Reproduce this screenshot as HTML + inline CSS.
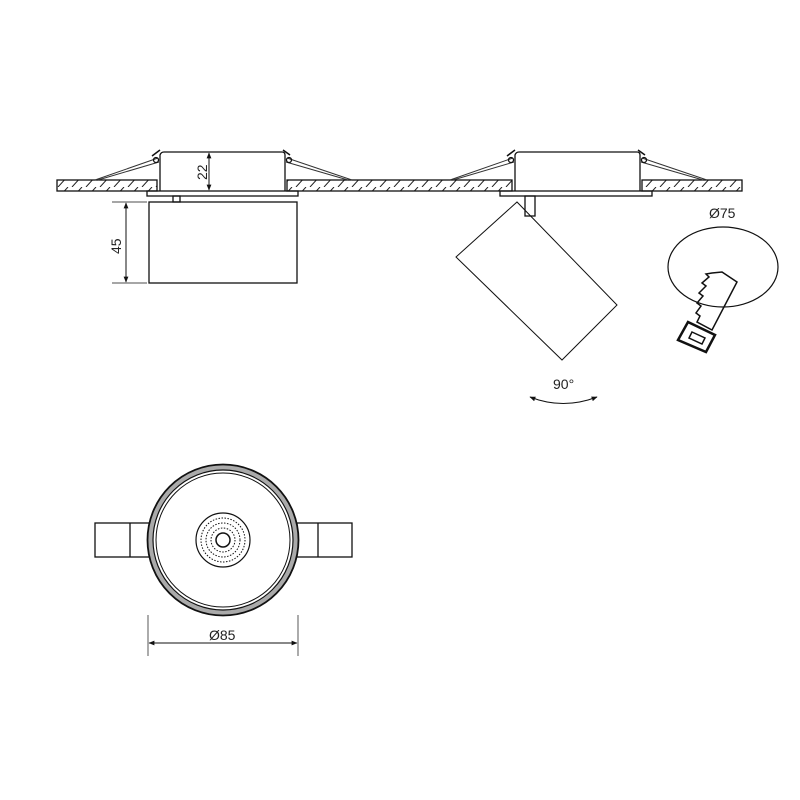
<!DOCTYPE html>
<html><head><style>body{margin:0;background:#fff}svg{display:block}</style></head><body>
<svg width="800" height="800" viewBox="0 0 800 800" xmlns="http://www.w3.org/2000/svg" font-family="Liberation Sans, sans-serif">
<defs>
<pattern id="h" width="14" height="11" patternUnits="userSpaceOnUse"><line x1="2" y1="11" x2="12" y2="0" stroke="#222" stroke-width="1"/></pattern>
<marker id="a" viewBox="0 0 10 10" refX="9" refY="5" markerWidth="6" markerHeight="6" orient="auto-start-reverse"><path d="M0,1 L10,5 L0,9z" fill="#111"/></marker>
</defs>
<g stroke="#111" fill="none" stroke-width="1.3">
<rect x="57" y="180" width="100" height="11" fill="url(#h)"/>
<rect x="287" y="180" width="225" height="11" fill="url(#h)"/>
<rect x="642" y="180" width="100" height="11" fill="url(#h)"/>
<!-- left fixture -->
<path d="M160,191 V155 Q161,152 164,152 H282 Q285,152 285,155 V191"/>
<rect x="147" y="191" width="151" height="5"/>
<rect x="173" y="196" width="7" height="6"/>
<rect x="149" y="202" width="148" height="81"/>
<path d="M158,158 L95,180 M159,162 L98,180 M287,158 L352,180 M286,162 L348,180" stroke-width="1" stroke="#333"/>
<path d="M152,156 L160,150 M290,155 L283,150" stroke-width="1.5"/>
<circle cx="156" cy="160" r="2.5"/><circle cx="289" cy="160" r="2.5"/>
<line x1="209" y1="153" x2="209" y2="190" marker-start="url(#a)" marker-end="url(#a)" stroke-width="1"/>
<line x1="112" y1="202" x2="147" y2="202" stroke-width="0.7"/>
<line x1="112" y1="283" x2="147" y2="283" stroke-width="0.7"/>
<line x1="126" y1="203" x2="126" y2="282" marker-start="url(#a)" marker-end="url(#a)" stroke-width="1"/>
<!-- right fixture -->
<path d="M515,191 V155 Q516,152 519,152 H637 Q640,152 640,155 V191"/>
<rect x="500" y="191" width="152" height="5"/>
<rect x="525" y="196" width="10" height="20"/>
<polygon points="456,257 517,202 617,305 562,360" stroke-width="1"/>
<path d="M513,158 L450,180 M514,162 L453,180 M642,158 L707,180 M641,162 L703,180" stroke-width="1" stroke="#333"/>
<path d="M507,156 L515,150 M645,155 L638,150" stroke-width="1.5"/>
<circle cx="511" cy="160" r="2.5"/><circle cx="644" cy="160" r="2.5"/>
<path d="M530,397 Q563,410 597,397" marker-start="url(#a)" marker-end="url(#a)" stroke-width="1"/>
<!-- ellipse & saw -->
<ellipse cx="723" cy="267" rx="55" ry="40" stroke-width="1.2"/>
<path d="M722,272 L737,282 L712,330 L697,322 L700,316 L696,313 L701,306 L697,303 L703,296 L699,293 L706,286 L702,283 L709,277 L706,274 L712,273 Z" stroke-width="1.5"/>
<polygon points="688,322 715,335 706,352 678,340" stroke-width="2.5"/>
<polygon points="692,332 705,338 702,344 689,338" stroke-width="1.5"/>
<!-- bottom view -->
<rect x="95" y="523" width="55" height="34"/><line x1="130" y1="523" x2="130" y2="557"/>
<rect x="297" y="523" width="55" height="34"/><line x1="318" y1="523" x2="318" y2="557"/>
<circle cx="223" cy="540" r="73" fill="#fff" stroke="#aaa" stroke-width="5"/>
<circle cx="223" cy="540" r="75.5" stroke-width="1.8"/>
<circle cx="223" cy="540" r="70" stroke-width="1.2"/>
<circle cx="223" cy="540" r="67" stroke-width="1"/>
<circle cx="223" cy="540" r="27" stroke-width="1.2"/>
<circle cx="223" cy="540" r="22" stroke-dasharray="1.5 1.5" stroke-width="1"/>
<circle cx="223" cy="540" r="17" stroke-dasharray="1.5 1.5" stroke-width="1"/>
<circle cx="223" cy="540" r="12" stroke-dasharray="1.5 1.5" stroke-width="1"/>
<circle cx="223" cy="540" r="7" stroke-width="1.5"/>
<line x1="148" y1="615" x2="148" y2="656" stroke-width="0.7"/>
<line x1="298" y1="615" x2="298" y2="656" stroke-width="0.7"/>
<line x1="149" y1="643" x2="297" y2="643" marker-start="url(#a)" marker-end="url(#a)" stroke-width="1"/>
</g>
<g fill="#222" font-size="14">
<text transform="translate(207,180) rotate(-90)">22</text>
<text transform="translate(121,254) rotate(-90)">45</text>
<text x="553" y="389">90°</text>
<text x="709" y="218">Ø75</text>
<text x="209" y="640">Ø85</text>
</g>
</svg>
</body></html>
